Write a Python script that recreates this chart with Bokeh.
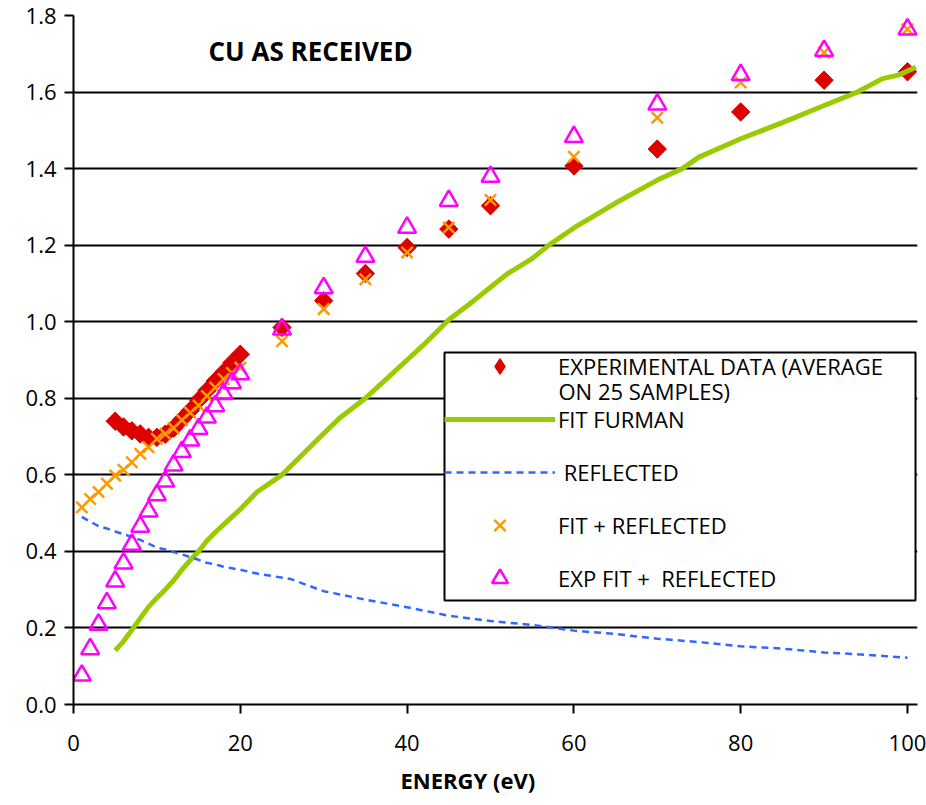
import numpy as np
from bokeh.plotting import figure
from bokeh.models import (Range1d, FixedTicker, NumeralTickFormatter, Legend, LegendItem,
                          Label, BoxAnnotation, Title)
from bokeh.embed import file_html
from bokeh.resources import INLINE

# ---------------- data ----------------
exp_energy = [5, 6, 7, 8, 9, 10, 11, 12, 13, 14, 15, 16, 17, 18, 19, 20,
              25, 30, 35, 40, 45, 50, 60, 70, 80, 90, 100]
exp_yield = [0.740, 0.725, 0.715, 0.707, 0.698, 0.698, 0.706, 0.722, 0.745, 0.768,
             0.795, 0.820, 0.845, 0.868, 0.893, 0.915,
             0.985, 1.055, 1.126, 1.194, 1.242, 1.303, 1.407, 1.451, 1.548, 1.631, 1.653]

furman_energy = [5, 6, 7, 8, 9, 10, 11, 12, 13, 14, 15, 16, 17, 18, 19, 20, 22, 25, 28,
                 30, 32, 35, 38, 40, 42, 45, 48, 50, 52, 55, 57, 60, 65, 70, 73, 75,
                 80, 85, 90, 94, 97, 99, 101]
furman_yield = [0.141, 0.165, 0.195, 0.225, 0.255, 0.278, 0.300, 0.324, 0.352, 0.377,
                0.400, 0.428, 0.450, 0.470, 0.490, 0.510, 0.555, 0.600, 0.665,
                0.708, 0.750, 0.800, 0.860, 0.900, 0.940, 1.005, 1.055, 1.090, 1.125,
                1.165, 1.200, 1.245, 1.310, 1.370, 1.400, 1.430, 1.478, 1.520, 1.565,
                1.600, 1.635, 1.645, 1.665]

refl_energy = [1, 2, 3, 4, 5, 6, 7, 8, 9, 10, 11, 12, 13, 14, 15, 16, 17, 18, 19, 20,
               22, 24, 26, 28, 30, 35, 40, 45, 50, 55, 60, 65, 70, 75, 80, 85, 90, 95, 100]
refl_yield = [0.490, 0.478, 0.466, 0.460, 0.452, 0.445, 0.438, 0.430, 0.420, 0.410,
              0.405, 0.398, 0.392, 0.385, 0.378, 0.370, 0.366, 0.360, 0.356, 0.352,
              0.342, 0.335, 0.328, 0.312, 0.296, 0.274, 0.254, 0.232, 0.218, 0.208,
              0.193, 0.184, 0.172, 0.163, 0.152, 0.146, 0.136, 0.130, 0.122]

fitref_energy = [1, 2, 3, 4, 5, 6, 7, 8, 9, 10, 11, 12, 13, 14, 15, 16, 17, 18, 19, 20,
                 25, 30, 35, 40, 45, 50, 60, 70, 80, 90, 100]
fitref_yield = [0.515, 0.537, 0.555, 0.577, 0.598, 0.613, 0.633, 0.655, 0.672, 0.694,
                0.707, 0.722, 0.743, 0.762, 0.781, 0.806, 0.828, 0.850, 0.866, 0.880,
                0.949, 1.033, 1.111, 1.181, 1.246, 1.318, 1.431, 1.533, 1.625, 1.703, 1.764]

expfit_energy = [1, 2, 3, 4, 5, 6, 7, 8, 9, 10, 11, 12, 13, 14, 15, 16, 17, 18, 19, 20,
                 25, 30, 35, 40, 45, 50, 60, 70, 80, 90, 100]
expfit_yield = [0.076, 0.145, 0.209, 0.265, 0.322, 0.369, 0.418, 0.465, 0.505, 0.547,
                0.583, 0.625, 0.660, 0.690, 0.720, 0.750, 0.780, 0.812, 0.840, 0.863,
                0.980, 1.088, 1.170, 1.246, 1.316, 1.379, 1.483, 1.568, 1.645, 1.708, 1.764]

x_ticks = [0, 20, 40, 60, 80, 100]
y_ticks = [0.0, 0.2, 0.4, 0.6, 0.8, 1.0, 1.2, 1.4, 1.6, 1.8]

title_text = "CU AS RECEIVED"
x_label = "ENERGY (eV)"
legend_labels = ["EXPERIMENTAL DATA (AVERAGE", "FIT FURMAN", " REFLECTED",
                 "FIT + REFLECTED", "EXP FIT +  REFLECTED"]
legend_label_line2 = "ON 25 SAMPLES)"

FONT = "Open Sans"
RED = "#DD0000"
GREEN = "#99CC00"
BLUE = "#3366FF"
ORANGE = "#FF9900"
MAGENTA = "#FF00FF"

# ---------------- figure ----------------
p = figure(width=926, height=805, output_backend="svg", toolbar_location=None,
           x_range=Range1d(0, 101.2), y_range=Range1d(0, 1.8),
           min_border_left=73, min_border_right=9, min_border_top=15,
           min_border_bottom=101)
p.outline_line_color = None
p.background_fill_color = "white"

# grid
p.xgrid.grid_line_color = None
p.ygrid.grid_line_color = "black"
p.ygrid.grid_line_width = 2
p.ygrid.ticker = FixedTicker(ticks=y_ticks)

# axes
for ax in (p.xaxis[0], p.yaxis[0]):
    ax.axis_line_color = "black"
    ax.axis_line_width = 2
    ax.major_tick_line_color = "black"
    ax.major_tick_line_width = 2
    ax.major_tick_out = 9
    ax.major_tick_in = 0
    ax.minor_tick_line_color = None
    ax.major_label_text_font = FONT
    ax.major_label_text_font_size = "22px"
    ax.major_label_text_color = "black"

p.xaxis.ticker = FixedTicker(ticks=x_ticks)
p.yaxis.ticker = FixedTicker(ticks=y_ticks)
p.yaxis.formatter = NumeralTickFormatter(format="0.0")
p.xaxis.major_label_standoff = 21
p.yaxis.major_label_standoff = 8

# x-axis title, in the panel below the x axis
p.add_layout(Title(text=x_label, align="left", offset=327, standoff=18,
                   text_font=FONT, text_font_size="22px", text_font_style="bold",
                   text_color="black"), "below")

# series (drawn in the original series order)
# a plain diamond under the rotated squares supplies the legend key shape
r_exp_key = p.scatter(exp_energy, exp_yield, marker="diamond", size=17,
                      fill_color=RED, line_color=RED)
r_exp = p.scatter(exp_energy, exp_yield, marker="square", angle=np.pi / 4, size=13,
                  fill_color=RED, line_color=RED, line_width=1)
r_fur = p.line(furman_energy, furman_yield, line_color=GREEN, line_width=5)
r_ref = p.line(refl_energy, refl_yield, line_color=BLUE, line_width=2.5,
               line_dash="7 5")
r_fit = p.scatter(fitref_energy, fitref_yield, marker="x", size=16,
                  line_color=ORANGE, line_width=2.5)
r_efit = p.scatter(expfit_energy, expfit_yield, marker="triangle", size=18,
                   fill_color=None, line_color=MAGENTA, line_width=2.5)

# legend frame (opaque white box with black border)
p.add_layout(BoxAnnotation(left=371, right=842, bottom=104, top=352,
                           left_units="screen", right_units="screen",
                           bottom_units="screen", top_units="screen",
                           fill_color="white", fill_alpha=1.0,
                           line_color="black", line_width=2, line_alpha=1.0,
                           level="annotation"))

legend = Legend(items=[
    LegendItem(label=legend_labels[0], renderers=[r_exp_key]),
    LegendItem(label=legend_labels[1], renderers=[r_fur]),
    LegendItem(label=legend_labels[2], renderers=[r_ref]),
    LegendItem(label=legend_labels[3], renderers=[r_fit]),
    LegendItem(label=legend_labels[4], renderers=[r_efit]),
], location=(371, 106), padding=0, spacing=13, glyph_width=111, glyph_height=40,
    label_height=40, label_standoff=3, label_width=340, margin=0,
    label_text_font=FONT, label_text_font_size="22px", label_text_color="black",
    border_line_color=None, background_fill_alpha=0.0)
p.add_layout(legend)

p.add_layout(Label(x=485, y=314, x_units="screen", y_units="screen",
                   text=legend_label_line2, text_font=FONT, text_font_size="22px",
                   text_baseline="middle", text_color="black"))

p.add_layout(Label(x=135, y=654, x_units="screen", y_units="screen",
                   text=title_text, text_font=FONT, text_font_size="26px",
                   text_font_style="bold", text_baseline="middle", text_color="black"))

open("out.html", "w").write(file_html(p, INLINE))
